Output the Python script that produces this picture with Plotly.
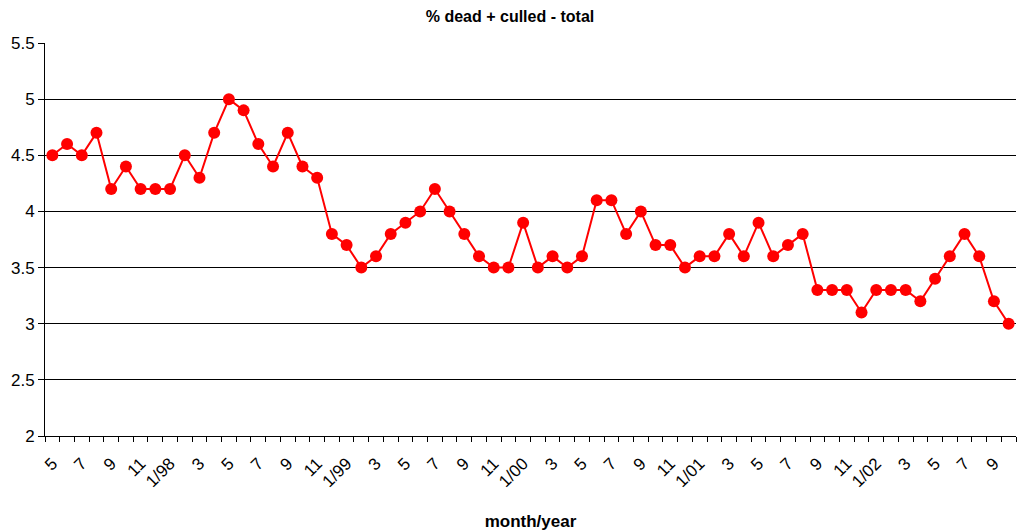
import plotly.graph_objects as go

# Monthly percentage of dead + culled animals, May 1997 - October 2002
months = (
    ["5", "6", "7", "8", "9", "10", "11", "12"]
    + ["1/98", "2", "3", "4", "5", "6", "7", "8", "9", "10", "11", "12"]
    + ["1/99", "2", "3", "4", "5", "6", "7", "8", "9", "10", "11", "12"]
    + ["1/00", "2", "3", "4", "5", "6", "7", "8", "9", "10", "11", "12"]
    + ["1/01", "2", "3", "4", "5", "6", "7", "8", "9", "10", "11", "12"]
    + ["1/02", "2", "3", "4", "5", "6", "7", "8", "9", "10"]
)
pct_1997 = [4.5, 4.6, 4.5, 4.7, 4.2, 4.4, 4.2, 4.2]
pct_1998 = [4.2, 4.5, 4.3, 4.7, 5.0, 4.9, 4.6, 4.4, 4.7, 4.4, 4.3, 3.8]
pct_1999 = [3.7, 3.5, 3.6, 3.8, 3.9, 4.0, 4.2, 4.0, 3.8, 3.6, 3.5, 3.5]
pct_2000 = [3.9, 3.5, 3.6, 3.5, 3.6, 4.1, 4.1, 3.8, 4.0, 3.7, 3.7, 3.5]
pct_2001 = [3.6, 3.6, 3.8, 3.6, 3.9, 3.6, 3.7, 3.8, 3.3, 3.3, 3.3, 3.1]
pct_2002 = [3.3, 3.3, 3.3, 3.2, 3.4, 3.6, 3.8, 3.6, 3.2, 3.0]
y_ticks = [2, 2.5, 3, 3.5, 4, 4.5, 5, 5.5]
y_grid = [2.5, 3, 3.5, 4, 4.5, 5]

pct = pct_1997 + pct_1998 + pct_1999 + pct_2000 + pct_2001 + pct_2002
idx = list(range(len(pct)))
label_idx = idx[::2]
label_txt = months[::2]

FONT = "Liberation Sans, Arial, sans-serif"
RED = "#ff0000"

fig = go.Figure()
fig.add_trace(go.Scatter(
    x=idx, y=pct, mode="lines+markers",
    line=dict(color=RED, width=2),
    marker=dict(color=RED, size=12),
    hoverinfo="x+y", showlegend=False,
))
# invisible trace to activate the grid axis
fig.add_trace(go.Scatter(x=[idx[0]], y=[pct[0]], yaxis="y2", mode="markers",
                         marker=dict(opacity=0), showlegend=False, hoverinfo="skip"))

fig.update_layout(
    width=1020, height=531,
    margin=dict(l=45, r=4, t=43, b=95),
    paper_bgcolor="white", plot_bgcolor="white",
    font=dict(family=FONT, color="black"),
    title=dict(text="<b>% dead + culled - total</b>", x=0.5, xanchor="center",
               y=0.98, yanchor="top", font=dict(size=16, family=FONT)),
    xaxis=dict(
        range=[-0.5, len(pct) - 0.5],
        tickvals=label_idx, ticktext=label_txt, tickangle=-45,
        tickfont=dict(size=17, family=FONT),
        ticks="outside", ticklen=0, ticklabelstandoff=10,
        minor=dict(tick0=-0.5, dtick=1, ticks="outside", ticklen=5,
                   tickcolor="black", tickwidth=1, showgrid=False),
        showline=True, linecolor="black", linewidth=1,
        showgrid=False, zeroline=False, automargin=False,
        title=dict(text="<b>month/year</b>", font=dict(size=17, family=FONT),
                   standoff=28),
    ),
    yaxis=dict(
        range=[2, 5.5], tickvals=y_ticks, ticktext=[f"{v:g}" for v in y_ticks],
        tickfont=dict(size=17, family=FONT),
        ticks="outside", ticklen=6, tickcolor="black",
        showline=True, linecolor="black", linewidth=1,
        showgrid=False, zeroline=False, automargin=False,
    ),
    yaxis2=dict(
        range=[2, 5.5], overlaying="y", tickvals=y_grid, showticklabels=False,
        showgrid=True, gridcolor="black", gridwidth=1, zeroline=False,
        showline=False, ticks="", automargin=False,
    ),
)

fig.write_html("out.html")
